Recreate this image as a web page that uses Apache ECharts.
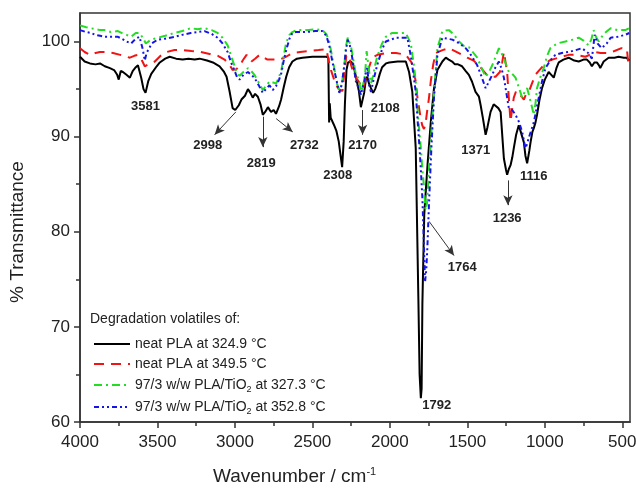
<!DOCTYPE html>
<html>
<head>
<meta charset="utf-8">
<script src="https://cdn.jsdelivr.net/npm/echarts@6/dist/echarts.min.js"></script>
<style>
  html, body { margin: 0; padding: 0; background: #fff; }
  #main { width: 636px; height: 489px; }
</style>
</head>
<body>
<div id="main"></div>
<script>
"use strict";

// neat PLA at 324.9 C (black)
var wnBlack = [4000, 3970, 3936, 3900, 3871, 3840, 3807, 3780, 3760, 3750, 3737, 3723, 3700, 3678, 3660, 3640, 3626, 3605, 3590, 3577, 3560, 3540, 3528, 3505, 3485, 3450, 3421, 3380, 3337, 3300, 3260, 3228, 3180, 3142, 3099, 3070, 3054, 3035, 3015, 2998, 2975, 2958, 2935, 2916, 2900, 2885, 2870, 2852, 2835, 2820, 2805, 2787, 2767, 2750, 2735, 2715, 2702, 2685, 2669, 2650, 2629, 2600, 2564, 2500, 2450, 2410, 2397, 2392, 2388, 2382, 2375, 2360, 2345, 2330, 2318, 2308, 2298, 2290, 2280, 2270, 2251, 2235, 2219, 2200, 2187, 2176, 2166, 2155, 2146, 2135, 2122, 2108, 2095, 2082, 2065, 2050, 2025, 2004, 1950, 1897, 1876, 1855, 1833, 1816, 1808, 1800, 1795, 1790, 1778, 1757, 1736, 1715, 1693, 1661, 1639, 1620, 1598, 1580, 1560, 1534, 1510, 1490, 1470, 1447, 1425, 1414, 1400, 1382, 1370, 1350, 1330, 1318, 1300, 1285, 1274, 1264, 1250, 1243, 1232, 1221, 1210, 1200, 1185, 1168, 1155, 1135, 1125, 1114, 1100, 1092, 1080, 1071, 1060, 1050, 1035, 1018, 1000, 975, 958, 942, 925, 910, 880, 846, 810, 781, 750, 728, 710, 696, 680, 664, 650, 642, 620, 588, 550, 524, 490, 472, 455];
var tBlack = [98.4, 97.9, 97.7, 97.6, 97.7, 97.4, 97.2, 97.0, 96.5, 96.0, 96.9, 96.8, 96.5, 96.2, 96.9, 97.3, 97.5, 96.2, 95.0, 94.6, 95.8, 96.6, 96.8, 97.4, 97.8, 98.2, 98.4, 98.2, 98.1, 98.2, 98.1, 98.2, 98.0, 97.8, 97.4, 96.8, 96.3, 94.8, 93.0, 92.8, 93.3, 93.9, 94.3, 95.0, 94.6, 94.1, 94.5, 94.2, 93.4, 92.3, 92.6, 93.1, 92.6, 92.8, 92.4, 93.2, 93.9, 95.2, 96.3, 97.3, 97.9, 98.2, 98.3, 98.4, 98.4, 98.4, 98.3, 91.5, 93.5, 92.0, 91.8, 91.2, 90.6, 89.5, 88.0, 86.8, 89.5, 93.5, 97.0, 97.8, 97.9, 97.5, 96.3, 94.8, 93.1, 92.9, 94.6, 96.0, 96.3, 95.6, 95.1, 94.6, 95.0, 95.6, 96.6, 97.3, 97.7, 97.8, 97.9, 97.9, 96.8, 94.7, 88.8, 73.0, 65.0, 62.5, 63.5, 72.5, 81.8, 87.0, 91.5, 95.1, 97.0, 97.9, 98.3, 98.1, 97.9, 97.6, 97.6, 97.4, 96.9, 96.5, 95.8, 94.7, 94.2, 93.3, 92.0, 90.2, 91.0, 92.6, 93.4, 93.5, 93.0, 92.6, 90.0, 87.7, 86.5, 86.0, 86.6, 87.0, 87.8, 88.8, 90.2, 91.2, 90.5, 89.4, 88.0, 87.2, 88.5, 89.4, 90.5, 90.9, 91.5, 92.3, 93.8, 95.1, 96.0, 96.8, 96.5, 96.2, 97.2, 97.8, 98.1, 98.3, 98.0, 97.9, 98.1, 98.1, 97.8, 97.4, 97.8, 97.8, 97.5, 97.2, 97.9, 98.3, 98.3, 98.4, 98.3, 98.3, 98.0];

// neat PLA at 349.5 C (red)
var wnRed = [4000, 3970, 3936, 3900, 3871, 3830, 3787, 3740, 3700, 3678, 3650, 3626, 3600, 3582, 3560, 3517, 3480, 3440, 3390, 3337, 3280, 3220, 3163, 3110, 3067, 3040, 3015, 2990, 2970, 2950, 2925, 2910, 2893, 2870, 2841, 2820, 2790, 2750, 2713, 2670, 2629, 2580, 2519, 2460, 2410, 2395, 2380, 2360, 2346, 2330, 2306, 2295, 2281, 2265, 2250, 2230, 2210, 2190, 2175, 2160, 2153, 2140, 2114, 2080, 2024, 1960, 1897, 1860, 1845, 1833, 1820, 1811, 1800, 1791, 1780, 1770, 1760, 1748, 1736, 1720, 1704, 1660, 1619, 1580, 1534, 1500, 1490, 1460, 1425, 1400, 1374, 1345, 1318, 1290, 1275, 1264, 1255, 1243, 1232, 1221, 1210, 1200, 1185, 1168, 1150, 1135, 1120, 1103, 1085, 1061, 1035, 1007, 970, 932, 890, 846, 800, 738, 700, 674, 640, 588, 550, 505, 470, 459];
var tRed = [99.3, 98.9, 98.6, 98.8, 98.9, 98.9, 98.8, 98.6, 98.4, 98.3, 98.5, 98.6, 98.0, 97.4, 97.6, 97.9, 98.5, 98.9, 99.1, 99.1, 99.0, 98.9, 98.7, 98.5, 98.1, 97.7, 97.0, 97.1, 97.4, 98.0, 98.6, 98.3, 97.9, 98.2, 98.6, 98.4, 98.1, 98.1, 98.1, 98.4, 98.8, 98.9, 99.0, 99.1, 99.2, 98.0, 97.0, 96.0, 95.4, 95.0, 94.8, 96.5, 98.5, 98.6, 97.5, 96.5, 96.0, 95.5, 95.0, 95.8, 96.5, 97.0, 98.3, 98.6, 98.8, 98.8, 98.6, 97.8, 96.8, 95.8, 93.8, 93.0, 91.8, 91.2, 90.8, 91.3, 92.6, 94.0, 95.8, 97.6, 98.8, 99.1, 99.3, 99.0, 98.6, 98.3, 98.2, 98.0, 97.5, 97.0, 96.5, 96.3, 96.3, 96.8, 97.8, 98.9, 98.0, 96.8, 94.0, 91.6, 93.0, 94.1, 94.8, 94.6, 94.2, 93.9, 94.5, 94.7, 95.5, 96.5, 97.0, 97.5, 98.0, 98.2, 98.4, 98.6, 98.6, 98.4, 98.7, 98.9, 98.8, 98.8, 99.0, 99.3, 99.2, 97.4];

// 97/3 w/w PLA/TiO2 at 327.3 C (green)
var wnGreen = [4000, 3994, 3960, 3930, 3900, 3870, 3841, 3800, 3755, 3720, 3700, 3670, 3640, 3616, 3595, 3575, 3550, 3520, 3498, 3450, 3390, 3340, 3285, 3240, 3197, 3150, 3112, 3080, 3047, 3025, 3004, 2990, 2970, 2945, 2916, 2895, 2874, 2850, 2820, 2800, 2777, 2755, 2733, 2715, 2700, 2685, 2669, 2648, 2629, 2604, 2539, 2480, 2436, 2410, 2391, 2375, 2359, 2340, 2326, 2310, 2294, 2283, 2272, 2260, 2251, 2235, 2219, 2198, 2187, 2176, 2160, 2150, 2146, 2135, 2122, 2110, 2095, 2082, 2050, 2026, 1985, 1940, 1897, 1865, 1844, 1833, 1820, 1800, 1790, 1779, 1770, 1760, 1748, 1736, 1715, 1693, 1661, 1619, 1590, 1554, 1520, 1490, 1465, 1436, 1410, 1382, 1360, 1339, 1320, 1296, 1280, 1264, 1232, 1210, 1189, 1170, 1146, 1130, 1114, 1090, 1071, 1060, 1050, 1030, 1007, 985, 964, 920, 867, 820, 781, 750, 717, 700, 685, 670, 652, 620, 575, 530, 481, 455];
var tGreen = [101.7, 101.6, 101.5, 101.4, 101.3, 101.2, 101.2, 101.0, 101.1, 100.8, 100.7, 100.5, 100.9, 100.9, 100.4, 99.8, 100.1, 100.3, 100.4, 100.6, 100.9, 101.1, 101.4, 101.3, 101.4, 101.2, 100.9, 100.4, 99.6, 98.5, 97.5, 96.7, 96.4, 96.8, 97.2, 96.9, 96.5, 95.8, 94.9, 95.3, 95.8, 95.7, 95.6, 96.3, 97.0, 98.5, 99.9, 100.7, 101.0, 101.2, 101.2, 101.3, 101.2, 100.8, 100.0, 98.6, 97.2, 95.5, 94.9, 95.5, 97.5, 99.5, 100.4, 100.2, 99.5, 98.0, 96.5, 96.0, 94.4, 94.2, 96.5, 99.0, 99.1, 97.0, 95.6, 96.3, 97.5, 98.4, 99.8, 100.5, 100.9, 100.9, 100.9, 99.8, 97.4, 95.8, 92.5, 88.8, 86.5, 84.6, 82.3, 83.0, 86.5, 89.4, 94.7, 99.3, 101.1, 101.2, 100.8, 100.0, 99.5, 99.4, 98.9, 98.3, 97.3, 96.3, 96.8, 97.5, 98.3, 99.3, 98.8, 98.2, 96.8, 96.6, 96.2, 95.3, 94.1, 94.7, 95.1, 93.6, 92.3, 93.5, 95.1, 96.2, 97.2, 98.5, 99.3, 99.8, 100.0, 100.2, 100.4, 100.1, 99.6, 100.2, 101.2, 100.5, 100.0, 100.8, 101.4, 101.2, 101.2, 101.4];

// 97/3 w/w PLA/TiO2 at 352.8 C (blue)
var wnBlue = [4000, 3994, 3960, 3930, 3900, 3870, 3841, 3800, 3755, 3720, 3700, 3670, 3640, 3616, 3595, 3582, 3570, 3537, 3498, 3450, 3390, 3340, 3285, 3240, 3197, 3150, 3112, 3080, 3047, 3025, 3004, 2985, 2970, 2945, 2916, 2895, 2874, 2850, 2820, 2800, 2777, 2756, 2735, 2715, 2700, 2685, 2669, 2648, 2629, 2604, 2539, 2480, 2436, 2410, 2391, 2370, 2348, 2326, 2310, 2294, 2283, 2272, 2260, 2249, 2235, 2219, 2200, 2187, 2166, 2155, 2146, 2135, 2122, 2105, 2082, 2050, 2026, 1960, 1900, 1887, 1865, 1850, 1833, 1820, 1811, 1800, 1790, 1780, 1773, 1765, 1758, 1747, 1732, 1715, 1693, 1661, 1597, 1550, 1511, 1490, 1465, 1436, 1410, 1382, 1360, 1339, 1318, 1296, 1280, 1264, 1250, 1232, 1210, 1189, 1165, 1146, 1125, 1115, 1103, 1085, 1071, 1055, 1039, 1018, 996, 965, 932, 890, 846, 800, 760, 720, 696, 678, 660, 633, 600, 575, 530, 481, 455];
var tBlue = [101.2, 101.1, 101.0, 100.9, 100.7, 100.6, 100.5, 100.5, 100.5, 100.2, 100.0, 99.8, 100.3, 100.5, 99.2, 98.0, 98.8, 99.8, 100.2, 100.3, 100.5, 100.7, 100.9, 101.0, 101.1, 100.8, 100.4, 99.8, 98.9, 97.8, 97.0, 96.2, 96.0, 96.5, 96.8, 96.5, 96.2, 95.5, 94.6, 95.0, 95.4, 94.9, 95.3, 96.0, 96.7, 98.0, 99.1, 100.3, 100.9, 101.0, 101.0, 101.1, 101.1, 100.6, 99.6, 97.8, 96.2, 94.6, 95.5, 97.5, 99.2, 100.2, 99.7, 98.9, 97.5, 95.8, 95.0, 94.4, 95.8, 96.8, 97.2, 95.5, 94.7, 96.0, 97.5, 99.2, 100.0, 100.4, 100.4, 100.4, 98.5, 96.8, 94.7, 91.5, 89.4, 86.5, 83.5, 78.5, 74.7, 76.0, 78.3, 83.1, 88.8, 94.1, 98.6, 100.4, 100.2, 99.8, 99.3, 98.9, 98.3, 97.5, 96.4, 95.1, 95.8, 96.5, 97.3, 97.9, 97.2, 96.2, 94.8, 93.0, 92.8, 92.3, 91.5, 90.5, 88.8, 89.2, 89.9, 90.8, 91.5, 92.8, 94.1, 95.8, 97.2, 98.0, 98.6, 98.8, 98.9, 99.1, 99.3, 98.8, 98.2, 100.7, 99.8, 99.3, 99.8, 100.4, 100.5, 100.7, 100.9];

var seriesNames = [
  "neat PLA at 324.9 °C",
  "neat PLA at 349.5 °C",
  "97/3 w/w PLA/TiO2 at 327.3 °C",
  "97/3 w/w PLA/TiO2 at 352.8 °C"
];

// peak labels: text, wavenumber, transmittance where the text sits
var peakText = ["3581", "2998", "2819", "2732", "2308", "2170", "2108", "1371", "1236", "1116", "1764", "1792"];
var peakWn = [3577, 3176, 2830, 2552, 2337, 2176, 2030, 1446, 1243, 1071, 1533, 1698];
var peakT = [93.2, 89.05, 87.2, 89.05, 85.9, 89.1, 93.0, 88.5, 81.4, 85.8, 76.3, 61.7];

// arrows: [from wn, from T, to wn, to T]
var arrows = [
  [2994, 92.6, 3131, 90.2],
  [2820, 92.1, 2820, 88.9],
  [2734, 91.9, 2627, 90.5],
  [2176, 92.8, 2176, 90.2],
  [1238, 85.4, 1238, 82.8],
  [1747, 81.1, 1586, 77.5]
];

var xMajor = [500, 1000, 1500, 2000, 2500, 3000, 3500, 4000];
var xMinor = [750, 1250, 1750, 2250, 2750, 3250, 3750];
var yMajor = [60, 70, 80, 90, 100];
var yMinor = [65, 75, 85, 95];

var FONT = "Liberation Sans, Arial, sans-serif";

function zip(xs, ys) {
  return xs.map(function(x, i) { return [x, ys[i]]; });
}

var chart = echarts.init(document.getElementById("main"));

function lineSeries(name, data, color, dash, width) {
  return {
    name: name,
    type: "line",
    data: data,
    symbol: "none",
    showSymbol: false,
    smooth: false,
    xAxisIndex: 0,
    yAxisIndex: 0,
    lineStyle: { color: color, width: width, type: dash },
    itemStyle: { color: color },
    emphasis: { disabled: true }
  };
}

var blueS = lineSeries(seriesNames[3], zip(wnBlue, tBlue), "#1414e6", [5, 3, 2, 3, 2, 3], 2);
var greenS = lineSeries(seriesNames[2], zip(wnGreen, tGreen), "#22dd22", [8, 4, 2, 4], 2);
var redS = lineSeries(seriesNames[1], zip(wnRed, tRed), "#f01414", [10, 7], 2);
var blackS = lineSeries(seriesNames[0], zip(wnBlack, tBlack), "#000000", "solid", 2);

// arrows pointing at the peaks
blackS.markLine = {
  silent: true,
  symbol: ["none", "arrow"],
  symbolSize: [7, 10],
  lineStyle: { color: "#333", width: 1, type: "solid" },
  label: { show: false },
  data: arrows.map(function(a) {
    return [{ coord: [a[0], a[1]] }, { coord: [a[2], a[3]] }];
  })
};
// peak numbers
blackS.markPoint = {
  silent: true,
  symbol: "circle",
  symbolSize: 1,
  itemStyle: { color: "rgba(0,0,0,0)" },
  label: {
    show: true,
    position: "inside",
    formatter: function(p) { return p.name; },
    fontFamily: FONT,
    fontWeight: "bold",
    fontSize: 13,
    color: "#222"
  },
  data: peakText.map(function(t, i) {
    return { name: t, coord: [peakWn[i], peakT[i]] };
  })
};

var axisLine = { show: true, lineStyle: { color: "#333", width: 1.5 } };
var plain = function(v) { return String(v); };

var option = {
  animation: false,
  backgroundColor: "#fff",
  grid: {
    left: 80, top: 13, right: 6, bottom: 67,
    show: true, borderColor: "#333", borderWidth: 1.5,
    containLabel: false,
    outerBoundsMode: "none"
  },
  legend: {
    orient: "vertical",
    left: 88,
    top: 331,
    itemWidth: 36,
    itemHeight: 12,
    itemGap: 4,
    selectedMode: false,
    data: seriesNames,
    itemStyle: { opacity: 0 },
    formatter: function(n) { return n.replace("TiO2", "TiO{sub|2}"); },
    textStyle: {
      fontFamily: FONT,
      fontSize: 14,
      color: "#222",
      lineHeight: 16,
      rich: {
        sub: { fontFamily: FONT, fontSize: 9, lineHeight: 16, padding: [9, 0, 0, 0], color: "#222" }
      }
    }
  },
  xAxis: [{
    type: "value",
    min: 450,
    max: 4000,
    inverse: true,
    position: "bottom",
    axisLine: axisLine,
    splitLine: { show: false },
    axisTick: { show: true, inside: false, length: 6, customValues: xMajor, lineStyle: { color: "#333", width: 1.5 } },
    axisLabel: { customValues: xMajor, formatter: plain, margin: 12, fontFamily: FONT, fontSize: 17, color: "#222" }
  }, {
    type: "value",
    min: 450,
    max: 4000,
    inverse: true,
    position: "bottom",
    axisLine: { show: false },
    splitLine: { show: false },
    axisTick: { show: true, inside: false, length: 4, customValues: xMinor, lineStyle: { color: "#333", width: 1.5 } },
    axisLabel: { show: false }
  }],
  yAxis: [{
    type: "value",
    min: 60,
    max: 103,
    position: "left",
    axisLine: axisLine,
    splitLine: { show: false },
    axisTick: { show: true, inside: false, length: 6, customValues: yMajor, lineStyle: { color: "#333", width: 1.5 } },
    axisLabel: { customValues: yMajor, formatter: plain, margin: 10, fontFamily: FONT, fontSize: 17, color: "#222" }
  }, {
    type: "value",
    min: 60,
    max: 103,
    position: "left",
    axisLine: { show: false },
    splitLine: { show: false },
    axisTick: { show: true, inside: false, length: 4, customValues: yMinor, lineStyle: { color: "#333", width: 1.5 } },
    axisLabel: { show: false }
  }],
  graphic: [{
    type: "text",
    left: 90,
    top: 312,
    style: { text: "Degradation volatiles of:", font: "14px " + FONT, fill: "#222" }
  }, {
    type: "text",
    x: 18,
    y: 232,
    rotation: Math.PI / 2,
    style: { text: "% Transmittance", font: "19px " + FONT, fill: "#222", align: "center", verticalAlign: "middle" }
  }, {
    type: "text",
    left: 213,
    top: 466,
    style: {
      text: "Wavenumber / cm{sup|-1}",
      font: "19px " + FONT,
      fill: "#222",
      rich: { sup: { fontSize: 11, fontFamily: FONT, padding: [0, 0, 10, 0], fill: "#222" } }
    }
  }],
  series: [blackS, redS, greenS, blueS]
};

chart.setOption(option);
</script>
</body>
</html>
